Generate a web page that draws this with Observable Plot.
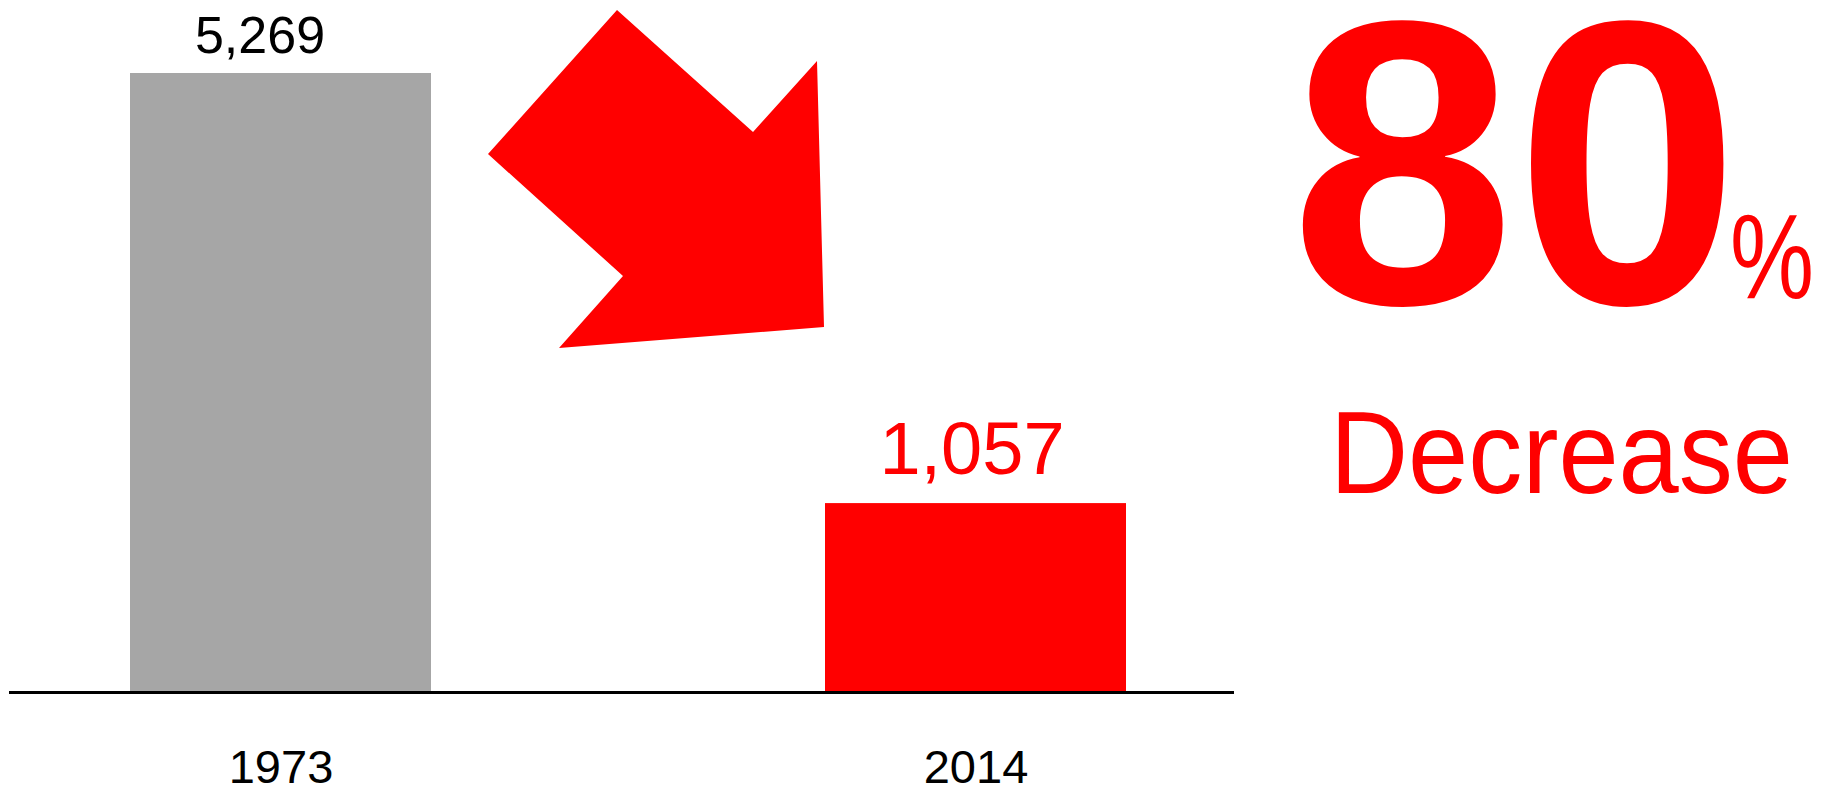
<!DOCTYPE html>
<html>
<head>
<meta charset="utf-8">
<script src="https://cdn.jsdelivr.net/npm/d3@7"></script>
<script src="https://cdn.jsdelivr.net/npm/@observablehq/plot@0.6"></script>
<style>
  html, body { margin: 0; padding: 0; background: #ffffff; }
  #chart { width: 1837px; height: 791px; overflow: hidden; }
</style>
</head>
<body>
<div id="chart"></div>
<script>
// ---- data ----
const years = ["1973", "2014"];
const values = [5269, 1057];
const barColors = ["#a6a6a6", "#ff0000"];
const labelColors = ["#000000", "#ff0000"];
const changeWord = "Decrease";

// ---- styling / layout constants ----
const FONT = "'Comic Sans MS', 'Liberation Sans', sans-serif";
const yFloor = -793;            // bottom of the value scale (bars rest on the baseline)
const labelSizes = [52, 74];
const labelDx = [-21, -4];
const labelDy = [-21, -30];

const data = years.map((year, i) => ({
  year,
  value: values[i],
  base: yFloor,
  fill: barColors[i],
  label: d3.format(",")(values[i])
}));

const pct = Math.round((values[0] - values[1]) / values[0] * 100);

const chart = Plot.plot({
  width: 1837,
  height: 791,
  marginLeft: 9,
  marginRight: 603,
  marginTop: 73,
  marginBottom: 99,
  style: { fontFamily: FONT, background: "#ffffff", overflow: "visible" },
  x: { domain: years, range: [130, 1126], paddingInner: 0.567, paddingOuter: 0, axis: null },
  y: { domain: [yFloor, values[0]], axis: null },
  color: { type: "identity" },
  marks: [
    Plot.rectY(data, { x: "year", y1: "base", y2: "value", fill: "fill" }),
    Plot.ruleY([yFloor], { stroke: "#000000", strokeWidth: 3 }),
    Plot.axisX({ tickSize: 0, tickPadding: 57, fontSize: 47, fill: "#000000", label: null }),
    ...data.map((d, i) => Plot.text([d], {
      x: "year", y: "value", text: "label",
      fill: labelColors[i], fontSize: labelSizes[i],
      dx: labelDx[i], dy: labelDy[i], lineAnchor: "bottom"
    }))
  ]
});

document.getElementById("chart").appendChild(chart);

// ---- decorative annotation: arrow + headline ----
const svg = d3.select(chart);
const arrow = [[617, 10], [753, 132], [817, 61], [824, 327], [559, 348], [623, 276], [488, 154]];
svg.append("polygon")
  .attr("points", arrow.map(p => p.join(",")).join(" "))
  .attr("fill", "#ff0000");

const note = svg.append("g")
  .attr("font-family", FONT)
  .attr("fill", "#ff0000")
  .attr("text-anchor", "start");

note.append("text")
  .attr("x", 1290).attr("y", 303)
  .attr("font-size", 405).attr("font-weight", "bold")
  .attr("textLength", 450).attr("lengthAdjust", "spacingAndGlyphs")
  .text(String(pct));

note.append("text")
  .attr("x", 1730).attr("y", 298)
  .attr("font-size", 120)
  .attr("textLength", 84).attr("lengthAdjust", "spacingAndGlyphs")
  .text("%");

note.append("text")
  .attr("x", 1330).attr("y", 493)
  .attr("font-size", 117)
  .attr("textLength", 463).attr("lengthAdjust", "spacingAndGlyphs")
  .text(changeWord);
</script>
</body>
</html>
